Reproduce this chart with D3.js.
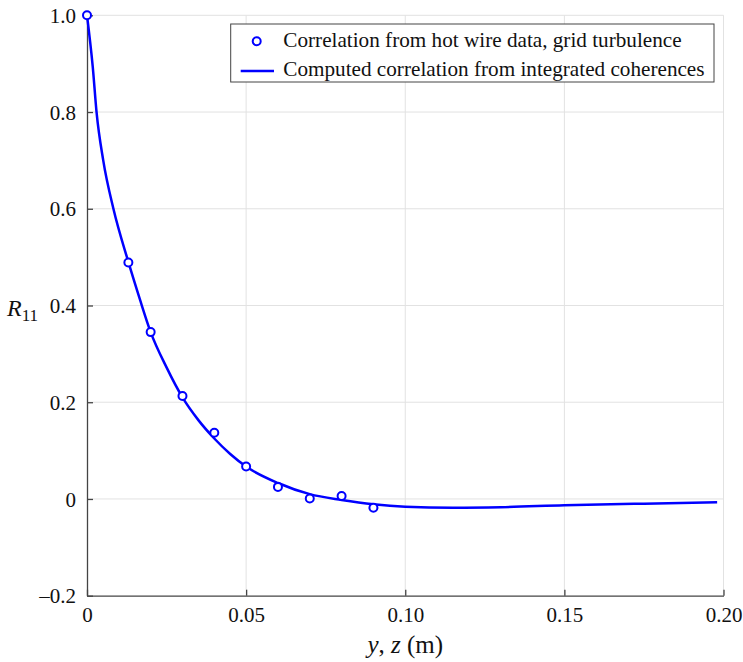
<!DOCTYPE html>
<html><head><meta charset="utf-8">
<script src="https://cdn.jsdelivr.net/npm/d3@7"></script>
</head>
<body style="margin:0;background:#fff">
<svg id="c" width="743" height="662" style="font-family:'Liberation Serif',Tinos,'Times New Roman',serif"></svg>
<script>
const hotWireX = [0, 0.013, 0.02, 0.03, 0.04, 0.05, 0.06, 0.07, 0.08, 0.09];
const hotWireY = [1.0, 0.489, 0.345, 0.213, 0.137, 0.067, 0.025, 0.001, 0.006, -0.018];
const computedX = [0, 0.0018, 0.003, 0.0051, 0.0083, 0.013, 0.0167, 0.02, 0.025, 0.03, 0.035, 0.04, 0.045, 0.05, 0.06, 0.07, 0.08, 0.09, 0.10, 0.115, 0.13, 0.15, 0.175, 0.198];
const computedY = [1.0, 0.894, 0.8, 0.7, 0.6, 0.49, 0.411, 0.345, 0.272, 0.21, 0.163, 0.125, 0.093, 0.067, 0.033, 0.010, -0.002, -0.011, -0.016, -0.018, -0.017, -0.013, -0.0097, -0.007];
const xTicks = [0, 0.05, 0.10, 0.15, 0.20];
const xTickLabels = ["0", "0.05", "0.10", "0.15", "0.20"];
const yTicks = [-0.2, 0, 0.2, 0.4, 0.6, 0.8, 1.0];
const yTickLabels = ["\u20130.2", "0", "0.2", "0.4", "0.6", "0.8", "1.0"];
const legendLabels = ["Correlation from hot wire data, grid turbulence", "Computed correlation from integrated coherences"];

const FONT = "'Liberation Serif', Tinos, 'Times New Roman', serif";
const svg = d3.select("#c");
const m = {l: 87, r: 19.5, t: 15.3, b: 66.3};
const W = 743, H = 662;
const x = d3.scaleLinear().domain([0, 0.2]).range([m.l, W - m.r]);
const y = d3.scaleLinear().domain([-0.2, 1.0]).range([H - m.b, m.t]);
const blue = "#0000ff";

// grid
const g = svg.append("g");
g.selectAll("line.gx").data(xTicks.slice(1)).join("line")
  .attr("x1", d => x(d)).attr("x2", d => x(d)).attr("y1", y(-0.2)).attr("y2", y(1.0))
  .attr("stroke", "#e2e2e2").attr("stroke-width", 1);
g.selectAll("line.gy").data(yTicks.slice(1)).join("line")
  .attr("y1", d => y(d)).attr("y2", d => y(d)).attr("x1", x(0)).attr("x2", x(0.2))
  .attr("stroke", "#e2e2e2").attr("stroke-width", 1);

// axes
const xAxis = d3.axisBottom(x).tickValues(xTicks).tickFormat((d, i) => xTickLabels[i]).tickSizeInner(-6).tickSizeOuter(0).tickPadding(11);
const yAxis = d3.axisLeft(y).tickValues(yTicks).tickFormat((d, i) => yTickLabels[i]).tickSizeInner(-6).tickSizeOuter(0).tickPadding(11);
const gx = svg.append("g").attr("transform", `translate(0,${y(-0.2)})`).call(xAxis);
const gy = svg.append("g").attr("transform", `translate(${x(0)},0)`).call(yAxis);
[gx, gy].forEach(a => {
  a.attr("font-family", null);
  a.select(".domain").attr("stroke", "#444").attr("stroke-width", 1.3);
  a.selectAll(".tick line").attr("stroke", "#444").attr("stroke-width", 1.3);
  a.selectAll(".tick text").style("font-family", FONT).attr("font-size", 21).attr("fill", "#111");
});
gy.selectAll(".tick text").attr("dy", "0.34em");

// axis titles
const xt = svg.append("text").attr("x", x(0.1)).attr("y", 653).attr("text-anchor", "middle")
  .style("font-family", FONT).attr("font-size", 25).attr("fill", "#111");
xt.append("tspan").attr("font-style", "italic").text("y");
xt.append("tspan").text(", ");
xt.append("tspan").attr("font-style", "italic").text("z");
xt.append("tspan").text(" (m)");
const rt = svg.append("text").attr("x", 7).attr("y", 316).style("font-family", FONT).attr("font-size", 24).attr("fill", "#111");
rt.append("tspan").attr("font-style", "italic").text("R");
rt.append("tspan").attr("font-size", 17).attr("dy", 5).text("11");

// curve
const line = d3.line().x(d => x(d[0])).y(d => y(d[1])).curve(d3.curveMonotoneX);
svg.append("path").datum(computedX.map((d, i) => [d, computedY[i]]))
  .attr("d", line).attr("fill", "none").attr("stroke", blue).attr("stroke-width", 2.5);

// points
svg.selectAll("circle.pt").data(hotWireX.map((d, i) => [d, hotWireY[i]])).join("circle")
  .attr("cx", d => x(d[0])).attr("cy", d => y(d[1])).attr("r", 4)
  .attr("fill", "#fff").attr("stroke", blue).attr("stroke-width", 2);

// legend
const lg = svg.append("g");
lg.append("rect").attr("x", 230.7).attr("y", 24).attr("width", 483.3).attr("height", 58)
  .attr("fill", "#fff").attr("stroke", "#444").attr("stroke-width", 1);
lg.append("circle").attr("cx", 256.7).attr("cy", 41.3).attr("r", 4).attr("fill", "#fff").attr("stroke", blue).attr("stroke-width", 2);
lg.append("line").attr("x1", 240.7).attr("x2", 274).attr("y1", 71).attr("y2", 71).attr("stroke", blue).attr("stroke-width", 2.5);
lg.selectAll("text.l").data(legendLabels).join("text")
  .attr("x", 283.3).attr("y", (d, i) => 46.8 + i * 29.5).style("font-family", FONT).attr("font-size", 21.2).attr("fill", "#111").text(d => d);
</script></body></html>
